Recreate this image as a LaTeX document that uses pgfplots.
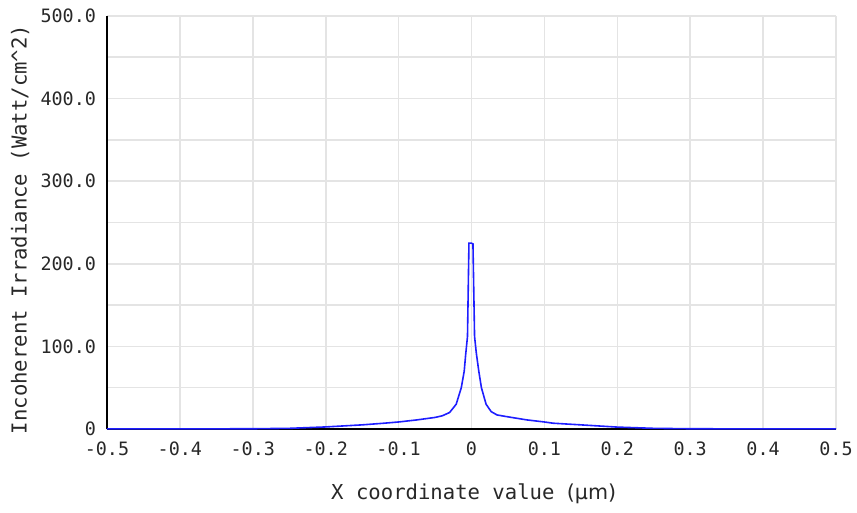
\documentclass[border=0pt]{standalone}
\usepackage{fontspec}
\setmainfont{DejaVu Sans}
\setmonofont{DejaVu Sans Mono}
\usepackage{pgfplots}
\pgfplotsset{compat=1.18}

\definecolor{gridgray}{RGB}{228,228,228}
\definecolor{txt}{RGB}{40,40,40}
\definecolor{curve}{RGB}{30,30,255}

% irradiance profile
\pgfplotstableread{
x y
-0.500 0.1
-0.400 0.1
-0.300 0.3
-0.250 0.8
-0.200 2.5
-0.150 5.0
-0.120 7.0
-0.100 8.5
-0.075 11.0
-0.050 14.0
-0.040 16.0
-0.030 20.0
-0.021 30.0
-0.014 50.0
-0.010 70.0
-0.008 90.0
-0.0055 112.0
-0.0035 225.0
0.000 225.0
0.002 224.0
0.0042 112.0
0.0066 92.0
0.010 70.0
0.0136 50.0
0.020 30.0
0.027 21.0
0.035 17.0
0.048 15.0
0.076 11.0
0.100 8.5
0.112 7.0
0.150 5.0
0.200 2.3
0.250 0.8
0.300 0.3
0.400 0.1
0.500 0.1
}\irr

\begin{document}
\begin{tikzpicture}
\path[use as bounding box] (-53.5pt,-42pt) rectangle (375pt,214.5pt);
\begin{axis}[
  scale only axis,
  width=364.5pt, height=206.5pt,
  anchor=south west, at={(0,0)},
  xmin=-0.5, xmax=0.5, ymin=0, ymax=500,
  axis lines*=left,
  axis line style={-, black, line width=0.9pt},
  xtick={-0.5,-0.4,...,0.5},
  xticklabels={-0.5,-0.4,-0.3,-0.2,-0.1,0,0.1,0.2,0.3,0.4,0.5},
  ytick={0,100,...,500},
  yticklabels={0,100.0,200.0,300.0,400.0,500.0},
  minor ytick={50,150,...,450},
  grid=both,
  major grid style={gridgray, line width=0.8pt},
  minor grid style={gridgray, line width=0.8pt},
  major tick length=0pt, minor tick length=0pt,
  tick label style={font=\ttfamily\fontsize{9.2}{11}\selectfont, text=txt},
  xticklabel style={yshift=-3pt},
  yticklabel style={xshift=-2pt},
  xlabel={X coordinate value {\rmfamily(µm)}},
  ylabel={Incoherent Irradiance (Watt/cm\^{}2)},
  label style={font=\ttfamily\fontsize{10.3}{12}\selectfont, text=txt},
  xlabel style={at={(axis description cs:0.503,-0.157)}, anchor=center},
  ylabel style={at={(axis description cs:-0.1193,0.483)}, anchor=center, rotate=0},
  clip=false,
]
\addplot[curve, line width=0.8pt] table[x=x, y=y] {\irr};
\end{axis}
\end{tikzpicture}
\end{document}
